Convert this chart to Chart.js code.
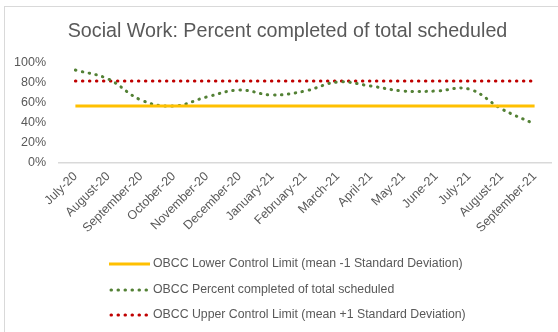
<!DOCTYPE html>
<html>
<head>
<meta charset="utf-8">
<script src="https://cdn.jsdelivr.net/npm/chart.js@4/dist/chart.umd.min.js"></script>
<style>
  body { margin: 0; background: #fff; }
  #wrap { position: relative; width: 558px; height: 332px; overflow: hidden; }
  #frame { position: absolute; left: 4px; top: 6px; width: 600px; height: 400px; border: 1px solid #d9d9d9; box-sizing: border-box; }
  canvas { position: absolute; left: 0; top: 0; }
</style>
</head>
<body>
<div id="wrap">
  <div id="frame"></div>
  <canvas id="canvasChart" width="558" height="332"></canvas>
</div>
<script>
var months = ["July-20", "August-20", "September-20", "October-20", "November-20", "December-20",
              "January-21", "February-21", "March-21", "April-21", "May-21", "June-21",
              "July-21", "August-21", "September-21"];
var percentCompleted = [93, 84, 63, 57, 66, 73, 68, 72, 81, 77, 72, 72, 74, 54, 39];
var lowerLimit = 57;
var upperLimit = 82;
var yTicks = [0, 20, 40, 60, 80, 100];

var lowerData = [];
var upperData = [];
for (var i = 0; i < months.length; i++) {
    lowerData.push(lowerLimit);
    upperData.push(upperLimit);
}

var fontFamily = "'Liberation Sans', Arial, sans-serif";

// legend drawn by hand, one entry per row under the axis labels
var rowLegend = {
    id: 'rowLegend',
    afterLayout: function(chart) {
        // center the title over the frame rather than the whole canvas
        if (chart.titleBlock) {
            chart.titleBlock.left = 24;
        }
    },
    afterDraw: function(chart) {
        var ctx = chart.ctx;
        var rows = [264, 290, 315];
        ctx.save();
        chart.data.datasets.forEach(function(ds, i) {
            var y = rows[i];
            ctx.beginPath();
            ctx.strokeStyle = ds.borderColor;
            ctx.lineWidth = ds.borderWidth;
            ctx.lineCap = ds.borderCapStyle || 'butt';
            ctx.setLineDash(ds.borderDash || []);
            ctx.moveTo(ds.borderDash ? 111 : 109, y);
            ctx.lineTo(150, y);
            ctx.stroke();
            ctx.setLineDash([]);
            ctx.fillStyle = '#595959';
            ctx.font = "12.3px " + fontFamily;
            ctx.textBaseline = 'middle';
            ctx.fillText(ds.label, 153, y);
        });
        ctx.restore();
    }
};

new Chart(document.getElementById('canvasChart'), {
    type: 'line',
    data: {
        labels: months,
        datasets: [
            {
                label: "OBCC Lower Control Limit (mean -1 Standard Deviation)",
                data: lowerData,
                borderColor: "#ffc000",
                borderWidth: 3,
                pointRadius: 0,
                fill: false
            },
            {
                label: "OBCC Percent completed of total scheduled",
                data: percentCompleted,
                borderColor: "#538135",
                borderWidth: 3,
                borderDash: [0.5, 6.5],
                borderCapStyle: 'round',
                pointRadius: 0,
                tension: 0.4,
                fill: false
            },
            {
                label: "OBCC Upper Control Limit (mean +1 Standard Deviation)",
                data: upperData,
                borderColor: "#c00000",
                borderWidth: 3,
                borderDash: [0.5, 6.5],
                borderCapStyle: 'round',
                pointRadius: 0,
                fill: false
            }
        ]
    },
    options: {
        responsive: false,
        animation: false,
        layout: { padding: { left: 4, right: 7, top: 0, bottom: 89 } },
        plugins: {
            legend: { display: false },
            tooltip: { enabled: false },
            title: {
                display: true,
                text: "Social Work: Percent completed of total scheduled",
                color: '#595959',
                font: { family: fontFamily, size: 19.7, weight: 'normal', lineHeight: 1.2 },
                padding: { top: 20, bottom: 19.4 }
            }
        },
        scales: {
            x: {
                offset: true,
                grid: { display: false, drawTicks: false },
                border: { display: true, color: '#d9d9d9', width: 1.5 },
                ticks: {
                    color: '#595959',
                    font: { family: fontFamily, size: 12.5 },
                    minRotation: 45,
                    maxRotation: 45,
                    autoSkip: false,
                    padding: 6
                },
                afterFit: function(scale) { scale.height = 80; }
            },
            y: {
                min: 0,
                max: 100,
                afterBuildTicks: function(scale) {
                    scale.ticks = yTicks.map(function(v) { return { value: v }; });
                },
                grid: { display: false, drawTicks: false },
                border: { display: false },
                ticks: {
                    color: '#595959',
                    font: { family: fontFamily, size: 12.5 },
                    padding: 13,
                    callback: function(v) { return v + '%'; }
                },
                afterFit: function(scale) { scale.width = 55; }
            }
        }
    },
    plugins: [rowLegend]
});
</script>
</body>
</html>
